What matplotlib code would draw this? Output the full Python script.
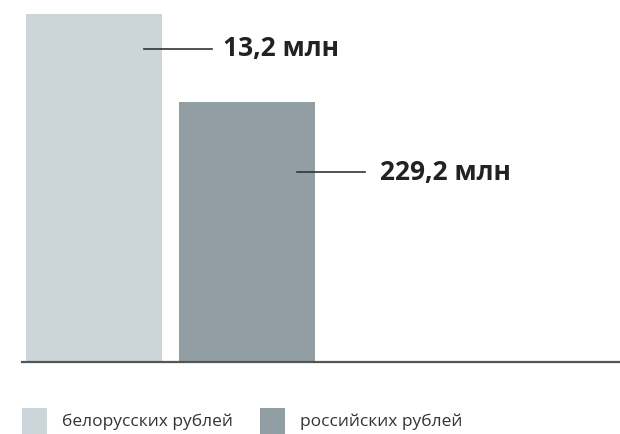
import matplotlib.pyplot as plt
from matplotlib.patches import Rectangle

plt.rcParams['font.family'] = ['Open Sans', 'DejaVu Sans']

categories = ['белорусских рублей', 'российских рублей']
value_labels = ['13,2 млн', '229,2 млн']
bar_heights = [348, 260]  # relative bar heights as drawn
colors = ['#ccd5d9', '#919fa5']

W, H = 620, 434
fig = plt.figure(figsize=(W / 100, H / 100), dpi=100)

# axes spans from x=22px to the right edge, baseline at y=362px
ax = fig.add_axes([22 / W, (H - 362) / H, 1 - 22 / W, (362 - 14) / H])
x = range(len(categories))
ax.bar(x, bar_heights, width=136 / 153, color=colors)
ax.set_xlim((22 - 94) / 153, (620 - 94) / 153)
ax.set_ylim(0, max(bar_heights))
for s in ['top', 'right', 'left']:
    ax.spines[s].set_visible(False)
ax.spines['bottom'].set_color('#555555')
ax.spines['bottom'].set_linewidth(1.6)
ax.set_xticks([])
ax.set_yticks([])

# leader lines + value labels
label_y = [0.9, 0.73]
label_dx = [0.845, 0.87]
for i, (h, lab) in enumerate(zip(bar_heights, value_labels)):
    y = h * label_y[i]
    ax.plot([i + 0.33, i + 0.77], [y, y], color='#333333', lw=1.2)
    ax.text(i + label_dx[i], y, lab, fontsize=19, fontweight='bold', color='#222222',
            va='center', ha='left')

# legend
leg_x = [22, 260]
for lx, c, cat in zip(leg_x, colors, categories):
    fig.add_artist(Rectangle((lx / W, 1 - 434 / H), 25 / W, 26 / H,
                             transform=fig.transFigure, color=c, lw=0))
    fig.text((lx + 40) / W, 1 - 422 / H, cat, fontsize=12.5, color='#333333',
             va='center', ha='left')

fig.savefig('out.png', dpi=100)
